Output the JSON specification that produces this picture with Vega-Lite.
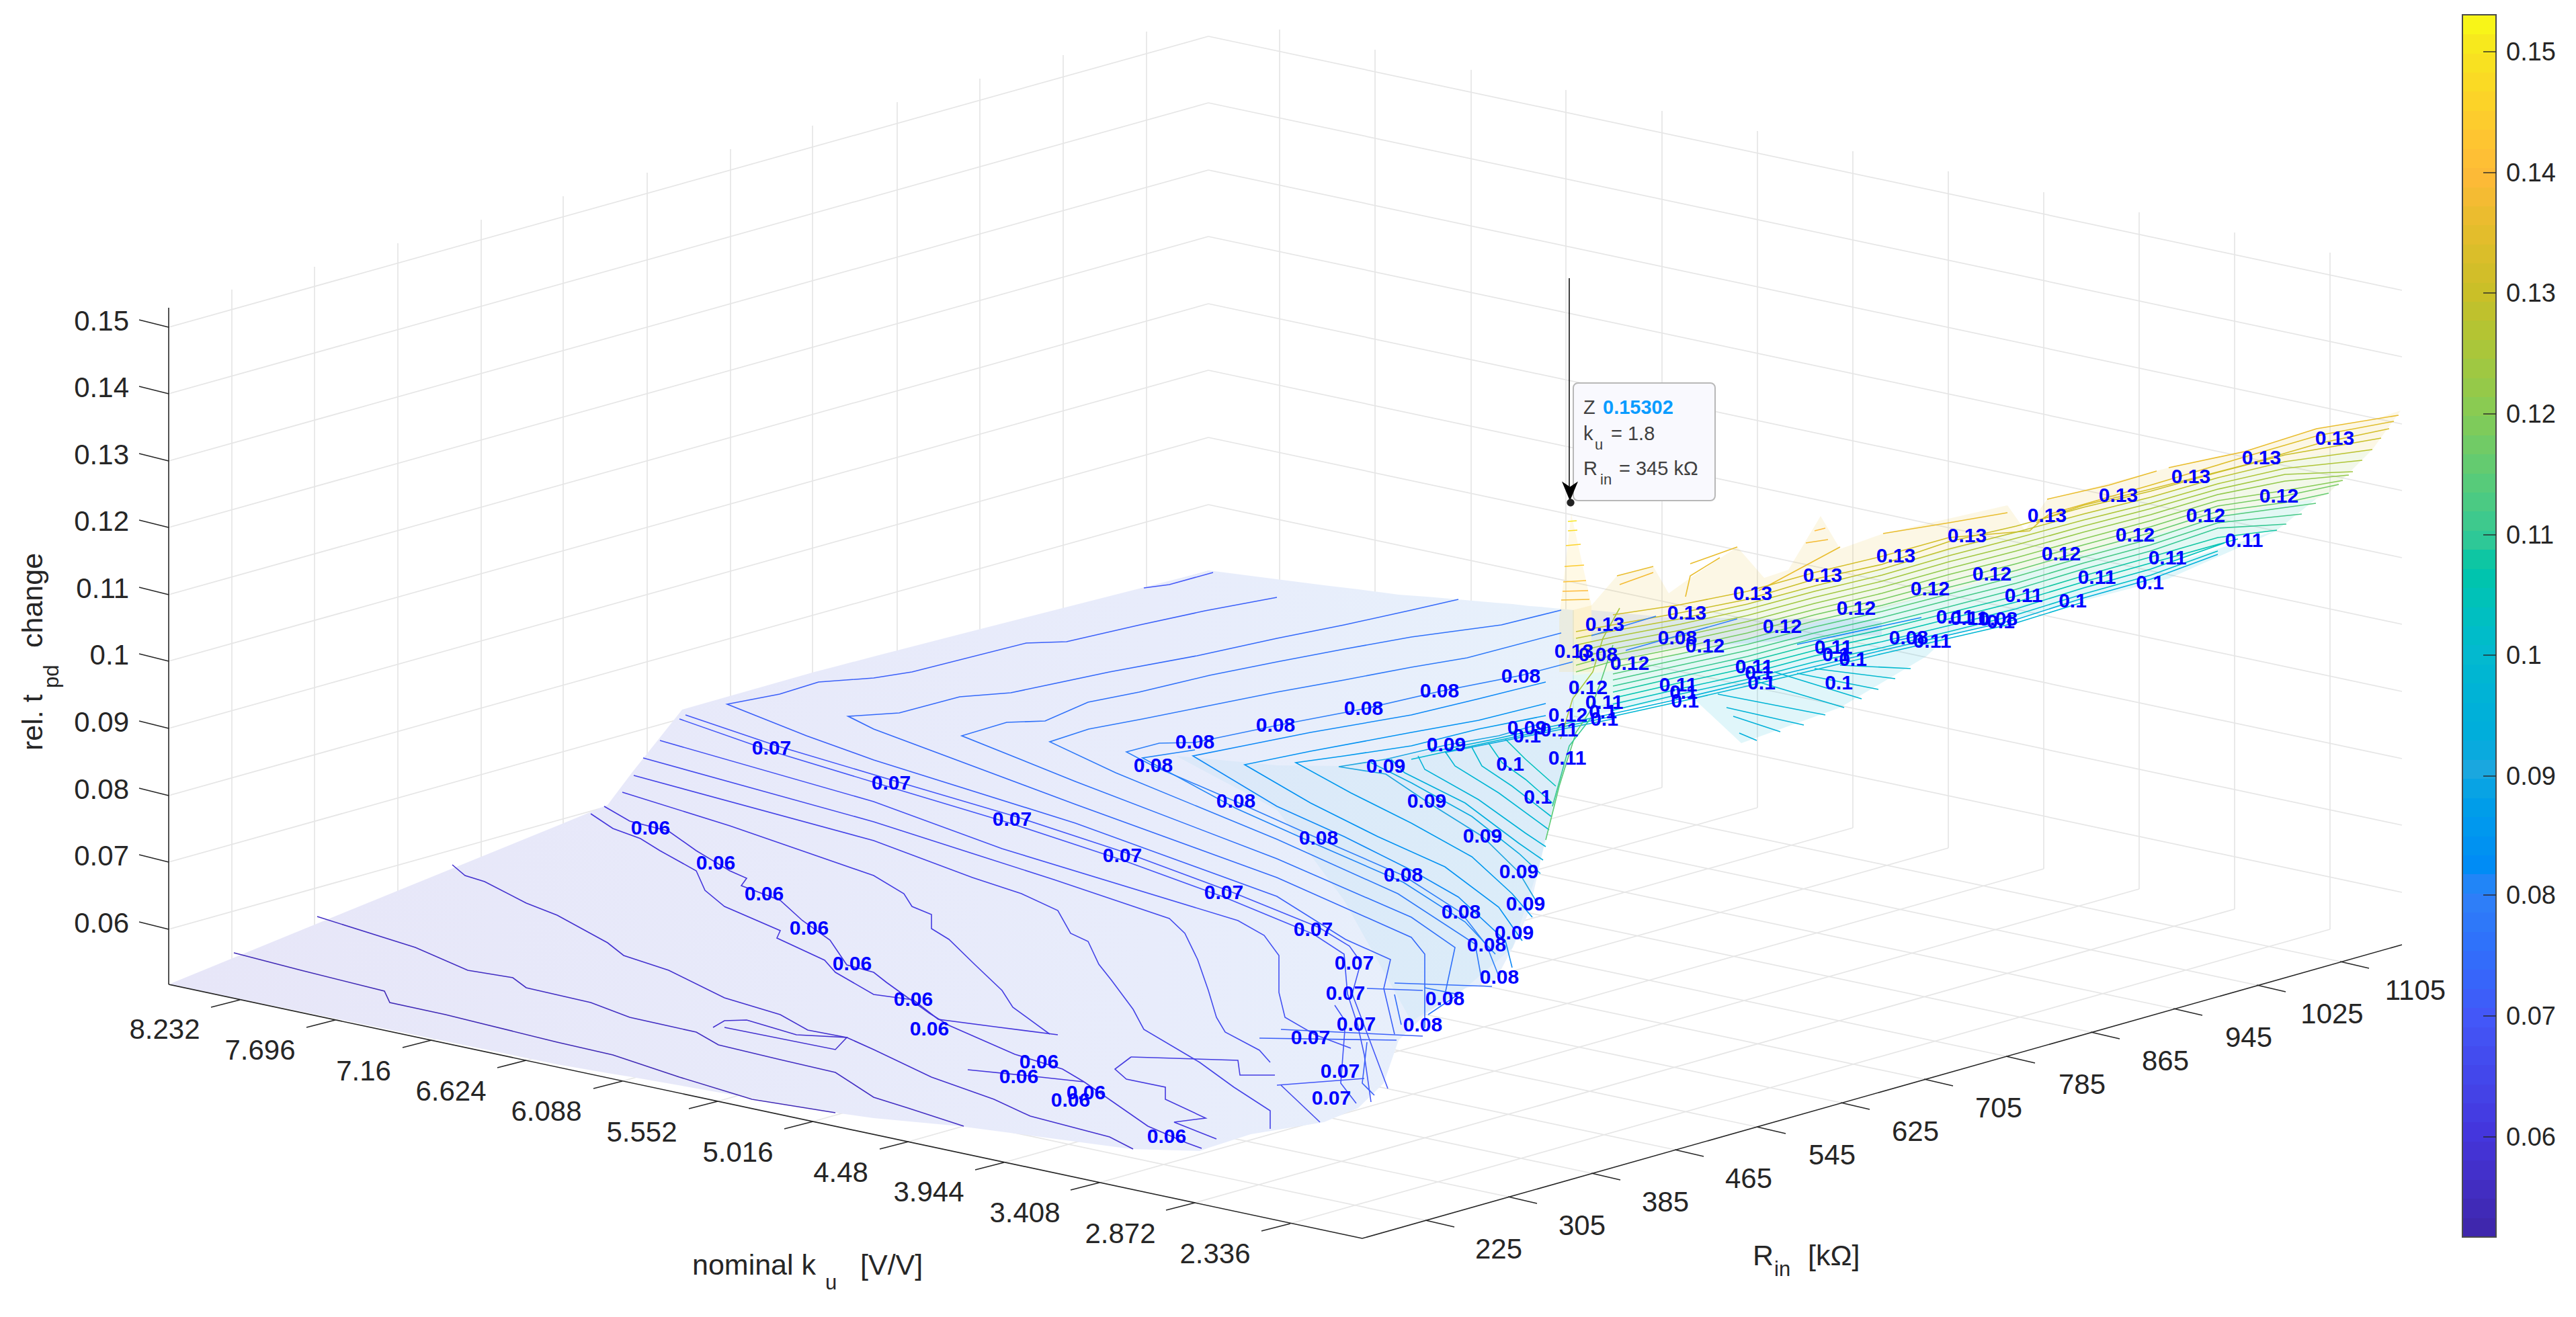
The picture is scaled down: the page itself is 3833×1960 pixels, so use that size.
{"$schema":"https://vega.github.io/schema/vega-lite/v6.json","width":3833,"height":1960,"padding":0,"autosize":{"type":"none"},"background":"white",
"config":{"view":{"stroke":null},"font":"Liberation Sans"},
"datasets":{
"grid":[
{"x":251,"y":487,"x2":1798,"y2":54},{"x":251,"y":586,"x2":1798,"y2":153},{"x":251,"y":686,"x2":1798,"y2":253},{"x":251,"y":785,"x2":1798,"y2":352},{"x":251,"y":885,"x2":1798,"y2":452},{"x":251,"y":984,"x2":1798,"y2":551},{"x":251,"y":1084,"x2":1798,"y2":651},{"x":251,"y":1184,"x2":1798,"y2":751},{"x":251,"y":1283,"x2":1798,"y2":850},{"x":251,"y":1383,"x2":1798,"y2":950},
{"x":1798,"y":54,"x2":3574,"y2":432},{"x":1798,"y":153,"x2":3574,"y2":531},{"x":1798,"y":253,"x2":3574,"y2":631},{"x":1798,"y":352,"x2":3574,"y2":730},{"x":1798,"y":452,"x2":3574,"y2":830},{"x":1798,"y":551,"x2":3574,"y2":929},{"x":1798,"y":651,"x2":3574,"y2":1029},{"x":1798,"y":751,"x2":3574,"y2":1129},{"x":1798,"y":850,"x2":3574,"y2":1228},{"x":1798,"y":950,"x2":3574,"y2":1328},
{"x":345,"y":1438,"x2":345,"y2":431},{"x":468,"y":1404,"x2":468,"y2":397},{"x":592,"y":1369,"x2":592,"y2":362},{"x":716,"y":1334,"x2":716,"y2":327},{"x":838,"y":1299,"x2":838,"y2":292},{"x":963,"y":1264,"x2":963,"y2":257},{"x":1087,"y":1229,"x2":1087,"y2":222},{"x":1209,"y":1194,"x2":1209,"y2":187},{"x":1335,"y":1159,"x2":1335,"y2":152},{"x":1458,"y":1124,"x2":1458,"y2":117},{"x":1582,"y":1089,"x2":1582,"y2":82},{"x":1706,"y":1054,"x2":1706,"y2":47},
{"x":1904,"y":1051,"x2":1904,"y2":44},{"x":2046,"y":1081,"x2":2046,"y2":74},{"x":2189,"y":1111,"x2":2189,"y2":104},{"x":2330,"y":1141,"x2":2330,"y2":134},{"x":2473,"y":1172,"x2":2473,"y2":165},{"x":2615,"y":1202,"x2":2615,"y2":195},{"x":2757,"y":1232,"x2":2757,"y2":225},{"x":2899,"y":1262,"x2":2899,"y2":255},{"x":3041,"y":1293,"x2":3041,"y2":286},{"x":3183,"y":1323,"x2":3183,"y2":316},{"x":3325,"y":1353,"x2":3325,"y2":346},{"x":3467,"y":1383,"x2":3467,"y2":376},
{"x":2121,"y":1816,"x2":345,"y2":1438},{"x":2244,"y":1781,"x2":468,"y2":1404},{"x":2368,"y":1746,"x2":592,"y2":1369},{"x":2492,"y":1711,"x2":716,"y2":1334},{"x":2614,"y":1677,"x2":838,"y2":1299},{"x":2739,"y":1641,"x2":963,"y2":1264},{"x":2863,"y":1606,"x2":1087,"y2":1229},{"x":2985,"y":1572,"x2":1209,"y2":1194},{"x":3111,"y":1536,"x2":1335,"y2":1159},{"x":3234,"y":1501,"x2":1458,"y2":1124},{"x":3358,"y":1466,"x2":1582,"y2":1089},{"x":3482,"y":1431,"x2":1706,"y2":1054},
{"x":357,"y":1488,"x2":1904,"y2":1051},{"x":499,"y":1518,"x2":2046,"y2":1081},{"x":642,"y":1548,"x2":2189,"y2":1111},{"x":783,"y":1578,"x2":2330,"y2":1141},{"x":926,"y":1609,"x2":2473,"y2":1172},{"x":1068,"y":1639,"x2":2615,"y2":1202},{"x":1210,"y":1669,"x2":2757,"y2":1232},{"x":1352,"y":1699,"x2":2899,"y2":1262},{"x":1494,"y":1730,"x2":3041,"y2":1293},{"x":1636,"y":1760,"x2":3183,"y2":1323},{"x":1778,"y":1790,"x2":3325,"y2":1353},{"x":1920,"y":1821,"x2":3467,"y2":1383}
],
"axes":[
{"x":251,"y":458,"x2":251,"y2":1465},{"x":251,"y":1465,"x2":2027,"y2":1843},{"x":2027,"y":1843,"x2":3574,"y2":1406},
{"x":251,"y":487,"x2":207,"y2":476},{"x":251,"y":586,"x2":207,"y2":575},{"x":251,"y":686,"x2":207,"y2":675},{"x":251,"y":785,"x2":207,"y2":774},{"x":251,"y":885,"x2":207,"y2":874},{"x":251,"y":984,"x2":207,"y2":973},{"x":251,"y":1084,"x2":207,"y2":1073},{"x":251,"y":1184,"x2":207,"y2":1173},{"x":251,"y":1283,"x2":207,"y2":1272},{"x":251,"y":1383,"x2":207,"y2":1372},
{"x":357,"y":1488,"x2":314,"y2":1499},{"x":499,"y":1518,"x2":456,"y2":1529},{"x":642,"y":1548,"x2":599,"y2":1559},{"x":783,"y":1578,"x2":740,"y2":1589},{"x":926,"y":1609,"x2":883,"y2":1620},{"x":1068,"y":1639,"x2":1025,"y2":1650},{"x":1210,"y":1669,"x2":1167,"y2":1680},{"x":1352,"y":1699,"x2":1309,"y2":1710},{"x":1494,"y":1730,"x2":1451,"y2":1741},{"x":1636,"y":1760,"x2":1593,"y2":1771},{"x":1778,"y":1790,"x2":1735,"y2":1801},{"x":1920,"y":1821,"x2":1877,"y2":1832},
{"x":2121,"y":1816,"x2":2164,"y2":1826},{"x":2244,"y":1781,"x2":2287,"y2":1791},{"x":2368,"y":1746,"x2":2411,"y2":1756},{"x":2492,"y":1711,"x2":2535,"y2":1721},{"x":2614,"y":1677,"x2":2657,"y2":1687},{"x":2739,"y":1641,"x2":2782,"y2":1651},{"x":2863,"y":1606,"x2":2906,"y2":1616},{"x":2985,"y":1572,"x2":3028,"y2":1582},{"x":3111,"y":1536,"x2":3154,"y2":1546},{"x":3234,"y":1501,"x2":3277,"y2":1511},{"x":3358,"y":1466,"x2":3401,"y2":1476},{"x":3482,"y":1431,"x2":3525,"y2":1441}
],
"cbticks":[{"x":3695,"y":77,"x2":3714,"y2":77},{"x":3695,"y":257,"x2":3714,"y2":257},{"x":3695,"y":436,"x2":3714,"y2":436},{"x":3695,"y":616,"x2":3714,"y2":616},{"x":3695,"y":796,"x2":3714,"y2":796},{"x":3695,"y":975,"x2":3714,"y2":975},{"x":3695,"y":1155,"x2":3714,"y2":1155},{"x":3695,"y":1332,"x2":3714,"y2":1332},{"x":3695,"y":1512,"x2":3714,"y2":1512},{"x":3695,"y":1692,"x2":3714,"y2":1692}],
"cblabels":[{"t":"0.15","x":3729,"y":79},{"t":"0.14","x":3729,"y":259},{"t":"0.13","x":3729,"y":438},{"t":"0.12","x":3729,"y":618},{"t":"0.11","x":3729,"y":798},{"t":"0.1","x":3729,"y":977},{"t":"0.09","x":3729,"y":1157},{"t":"0.08","x":3729,"y":1334},{"t":"0.07","x":3729,"y":1514},{"t":"0.06","x":3729,"y":1694}],
"colorbar":[
{"z":0.0525,"y":1841,"y2":1813},{"z":0.0541,"y":1813,"y2":1784},{"z":0.0557,"y":1784,"y2":1756},{"z":0.0573,"y":1756,"y2":1727},{"z":0.0588,"y":1727,"y2":1699},{"z":0.0604,"y":1699,"y2":1670},{"z":0.062,"y":1670,"y2":1642},{"z":0.0636,"y":1642,"y2":1614},{"z":0.0652,"y":1614,"y2":1585},{"z":0.0667,"y":1585,"y2":1557},{"z":0.0683,"y":1557,"y2":1529},{"z":0.0699,"y":1529,"y2":1500},{"z":0.0715,"y":1500,"y2":1472},{"z":0.0731,"y":1472,"y2":1443},{"z":0.0747,"y":1443,"y2":1415},{"z":0.0762,"y":1415,"y2":1387},{"z":0.0778,"y":1387,"y2":1358},{"z":0.0794,"y":1358,"y2":1330},{"z":0.081,"y":1330,"y2":1301},{"z":0.0826,"y":1301,"y2":1273},{"z":0.0842,"y":1273,"y2":1245},{"z":0.0857,"y":1245,"y2":1216},{"z":0.0873,"y":1216,"y2":1188},{"z":0.0889,"y":1188,"y2":1159},{"z":0.0905,"y":1159,"y2":1131},{"z":0.0921,"y":1131,"y2":1102},{"z":0.0937,"y":1102,"y2":1074},{"z":0.0952,"y":1074,"y2":1046},{"z":0.0968,"y":1046,"y2":1017},{"z":0.0984,"y":1017,"y2":989},{"z":0.1,"y":989,"y2":960},{"z":0.1016,"y":960,"y2":932},{"z":0.1032,"y":932,"y2":904},{"z":0.1047,"y":904,"y2":875},{"z":0.1063,"y":875,"y2":847},{"z":0.1079,"y":847,"y2":818},{"z":0.1095,"y":818,"y2":790},{"z":0.1111,"y":790,"y2":761},{"z":0.1127,"y":761,"y2":733},{"z":0.1142,"y":733,"y2":705},{"z":0.1158,"y":705,"y2":676},{"z":0.1174,"y":676,"y2":648},{"z":0.119,"y":648,"y2":619},{"z":0.1206,"y":619,"y2":591},{"z":0.1222,"y":591,"y2":563},{"z":0.1237,"y":563,"y2":534},{"z":0.1253,"y":534,"y2":506},{"z":0.1269,"y":506,"y2":477},{"z":0.1285,"y":477,"y2":449},{"z":0.1301,"y":449,"y2":421},{"z":0.1317,"y":421,"y2":392},{"z":0.1332,"y":392,"y2":364},{"z":0.1348,"y":364,"y2":335},{"z":0.1364,"y":335,"y2":307},{"z":0.138,"y":307,"y2":279},{"z":0.1396,"y":279,"y2":250},{"z":0.1411,"y":250,"y2":222},{"z":0.1427,"y":222,"y2":193},{"z":0.1443,"y":193,"y2":165},{"z":0.1459,"y":165,"y2":136},{"z":0.1475,"y":136,"y2":108},{"z":0.1491,"y":108,"y2":80},{"z":0.1506,"y":80,"y2":51},{"z":0.1522,"y":51,"y2":22}
],
"base":[
{"x":251,"y":1465,"y2":1465},{"x":500,"y":1363,"y2":1516},{"x":829,"y":1229,"y2":1584},{"x":904,"y":1198,"y2":1597},{"x":941,"y":1149,"y2":1603},{"x":1015,"y":1056,"y2":1616},{"x":1212,"y":1000,"y2":1651},{"x":1243,"y":992,"y2":1656},{"x":1300,"y":977,"y2":1664},{"x":1428,"y":944,"y2":1676},{"x":1683,"y":879,"y2":1710},{"x":1785,"y":853,"y2":1713},{"x":1799,"y":849,"y2":1708},{"x":1861,"y":857,"y2":1688},{"x":1970,"y":871,"y2":1670},{"x":2021,"y":877,"y2":1649},{"x":2059,"y":882,"y2":1612},{"x":2081,"y":885,"y2":1548},{"x":2123,"y":888,"y2":1508},{"x":2180,"y":893,"y2":1471},{"x":2225,"y":897,"y2":1459},{"x":2251,"y":899,"y2":1410},{"x":2276,"y":902,"y2":1355},{"x":2292,"y":903,"y2":1282},{"x":2311,"y":905,"y2":1199},{"x":2342,"y":908,"y2":1093}
],
"ridge":[
{"z":0.1,"x":1750,"y":1125,"y2":1125},{"z":0.1,"x":1900,"y":1139,"y2":1205},{"z":0.1,"x":2000,"y":1140,"y2":1340},{"z":0.1,"x":2100,"y":1124,"y2":1520},{"z":0.1,"x":2180,"y":1107,"y2":1471},{"z":0.1,"x":2251,"y":1095,"y2":1410},{"z":0.1,"x":2292,"y":1085,"y2":1282},{"z":0.1,"x":2342,"y":1072,"y2":1093}
],
"patches":[
{"p":"back","z":0.075,"x":2368,"y":908,"y2":990},{"p":"back","z":0.075,"x":2483,"y":919,"y2":965},{"p":"back","z":0.075,"x":2738,"y":921,"y2":948},{"p":"back","z":0.075,"x":2800,"y":925,"y2":945},
{"p":"spike","z":0.145,"x":2320,"y":920,"y2":1000},{"p":"spike","z":0.145,"x":2338,"y":765,"y2":1000},{"p":"spike","z":0.145,"x":2368,"y":900,"y2":1000},
{"p":"b1","z":0.135,"x":2340,"y":908,"y2":950},{"p":"b1","z":0.135,"x":2368,"y":901,"y2":945},{"p":"b1","z":0.135,"x":2406,"y":857,"y2":938},{"p":"b1","z":0.135,"x":2460,"y":843,"y2":928},{"p":"b1","z":0.135,"x":2483,"y":883,"y2":924},{"p":"b1","z":0.135,"x":2515,"y":860,"y2":918},{"p":"b1","z":0.135,"x":2585,"y":814,"y2":902},{"p":"b1","z":0.135,"x":2625,"y":860,"y2":893},{"p":"b1","z":0.135,"x":2661,"y":848,"y2":882},{"p":"b1","z":0.135,"x":2709,"y":768,"y2":871},{"p":"b1","z":0.135,"x":2738,"y":817,"y2":863},{"p":"b1","z":0.135,"x":2802,"y":794,"y2":846},{"p":"b1","z":0.135,"x":2987,"y":752,"y2":796},{"p":"b1","z":0.135,"x":3013,"y":789,"y2":789},{"p":"b1","z":0.135,"x":3046,"y":743,"y2":780},{"p":"b1","z":0.135,"x":3227,"y":696,"y2":733},{"p":"b1","z":0.135,"x":3340,"y":672,"y2":699},{"p":"b1","z":0.135,"x":3447,"y":638,"y2":677},{"p":"b1","z":0.135,"x":3530,"y":625,"y2":669},{"p":"b1","z":0.135,"x":3572,"y":611,"y2":611},
{"p":"b2","z":0.122,"x":2340,"y":950,"y2":1005},{"p":"b2","z":0.122,"x":2406,"y":938,"y2":998},{"p":"b2","z":0.122,"x":2515,"y":918,"y2":970},{"p":"b2","z":0.122,"x":2625,"y":893,"y2":945},{"p":"b2","z":0.122,"x":2738,"y":863,"y2":918},{"p":"b2","z":0.122,"x":2802,"y":846,"y2":905},{"p":"b2","z":0.122,"x":2900,"y":817,"y2":879},{"p":"b2","z":0.122,"x":3046,"y":780,"y2":840},{"p":"b2","z":0.122,"x":3227,"y":733,"y2":790},{"p":"b2","z":0.122,"x":3340,"y":699,"y2":760},{"p":"b2","z":0.122,"x":3447,"y":677,"y2":742},{"p":"b2","z":0.122,"x":3465,"y":675,"y2":734},{"p":"b2","z":0.122,"x":3530,"y":669,"y2":669},
{"p":"b3","z":0.108,"x":2340,"y":1005,"y2":1060},{"p":"b3","z":0.108,"x":2406,"y":998,"y2":1047},{"p":"b3","z":0.108,"x":2515,"y":970,"y2":1022},{"p":"b3","z":0.108,"x":2625,"y":945,"y2":997},{"p":"b3","z":0.108,"x":2738,"y":918,"y2":968},{"p":"b3","z":0.108,"x":2900,"y":879,"y2":931},{"p":"b3","z":0.108,"x":3046,"y":840,"y2":892},{"p":"b3","z":0.108,"x":3227,"y":790,"y2":840},{"p":"b3","z":0.108,"x":3340,"y":760,"y2":795},{"p":"b3","z":0.108,"x":3388,"y":752,"y2":789},{"p":"b3","z":0.108,"x":3447,"y":742,"y2":742},
{"p":"b4","z":0.098,"x":2342,"y":1060,"y2":1093},{"p":"b4","z":0.098,"x":2381,"y":1050,"y2":1062},{"p":"b4","z":0.098,"x":2515,"y":1022,"y2":1035},{"p":"b4","z":0.098,"x":2591,"y":1003,"y2":1106},{"p":"b4","z":0.098,"x":2738,"y":968,"y2":1053},{"p":"b4","z":0.098,"x":2866,"y":940,"y2":977},{"p":"b4","z":0.098,"x":2900,"y":931,"y2":946},{"p":"b4","z":0.098,"x":3227,"y":840,"y2":861},{"p":"b4","z":0.098,"x":3388,"y":789,"y2":790}
],
"contours":[
{"c":"a0","z":0.07,"x":1702,"y":875},{"c":"a0","z":0.07,"x":1740,"y":870},{"c":"a0","z":0.07,"x":1805,"y":852},
{"c":"a1","z":0.054,"x":348,"y":1418},{"c":"a1","z":0.054,"x":448,"y":1444},{"c":"a1","z":0.054,"x":572,"y":1475},{"c":"a1","z":0.054,"x":580,"y":1492},{"c":"a1","z":0.054,"x":663,"y":1510},{"c":"a1","z":0.054,"x":829,"y":1551},{"c":"a1","z":0.054,"x":912,"y":1570},{"c":"a1","z":0.054,"x":1011,"y":1603},{"c":"a1","z":0.054,"x":1119,"y":1636},{"c":"a1","z":0.054,"x":1243,"y":1656},
{"c":"a2","z":0.056,"x":472,"y":1364},{"c":"a2","z":0.056,"x":618,"y":1410},{"c":"a2","z":0.056,"x":696,"y":1444},{"c":"a2","z":0.056,"x":763,"y":1455},{"c":"a2","z":0.056,"x":783,"y":1470},{"c":"a2","z":0.056,"x":879,"y":1492},{"c":"a2","z":0.056,"x":937,"y":1514},{"c":"a2","z":0.056,"x":1036,"y":1536},{"c":"a2","z":0.056,"x":1069,"y":1555},{"c":"a2","z":0.056,"x":1161,"y":1577},{"c":"a2","z":0.056,"x":1243,"y":1596},{"c":"a2","z":0.056,"x":1300,"y":1633},{"c":"a2","z":0.056,"x":1351,"y":1649},{"c":"a2","z":0.056,"x":1434,"y":1676},
{"c":"a3","z":0.058,"x":673,"y":1287},{"c":"a3","z":0.058,"x":692,"y":1303},{"c":"a3","z":0.058,"x":721,"y":1312},{"c":"a3","z":0.058,"x":783,"y":1344},{"c":"a3","z":0.058,"x":829,"y":1362},{"c":"a3","z":0.058,"x":904,"y":1403},{"c":"a3","z":0.058,"x":928,"y":1422},{"c":"a3","z":0.058,"x":995,"y":1444},{"c":"a3","z":0.058,"x":1078,"y":1485},{"c":"a3","z":0.058,"x":1161,"y":1510},{"c":"a3","z":0.058,"x":1202,"y":1533},{"c":"a3","z":0.058,"x":1260,"y":1544},{"c":"a3","z":0.058,"x":1300,"y":1562},{"c":"a3","z":0.058,"x":1386,"y":1603},{"c":"a3","z":0.058,"x":1479,"y":1636},{"c":"a3","z":0.058,"x":1533,"y":1661},{"c":"a3","z":0.058,"x":1651,"y":1692},{"c":"a3","z":0.058,"x":1686,"y":1710},
{"c":"a4","z":0.058,"x":1061,"y":1529},{"c":"a4","z":0.058,"x":1078,"y":1519},{"c":"a4","z":0.058,"x":1111,"y":1518},{"c":"a4","z":0.058,"x":1185,"y":1540},{"c":"a4","z":0.058,"x":1260,"y":1544},{"c":"a4","z":0.058,"x":1243,"y":1562},{"c":"a4","z":0.058,"x":1078,"y":1529},
{"c":"b1","z":0.06,"x":879,"y":1211},{"c":"b1","z":0.06,"x":912,"y":1233},{"c":"b1","z":0.06,"x":953,"y":1248},{"c":"b1","z":0.06,"x":982,"y":1266},{"c":"b1","z":0.06,"x":1036,"y":1296},{"c":"b1","z":0.06,"x":1049,"y":1325},{"c":"b1","z":0.06,"x":1078,"y":1349},{"c":"b1","z":0.06,"x":1161,"y":1385},{"c":"b1","z":0.06,"x":1156,"y":1396},{"c":"b1","z":0.06,"x":1227,"y":1429},{"c":"b1","z":0.06,"x":1243,"y":1447},{"c":"b1","z":0.06,"x":1300,"y":1480},{"c":"b1","z":0.06,"x":1359,"y":1488},{"c":"b1","z":0.06,"x":1396,"y":1517},{"c":"b1","z":0.06,"x":1480,"y":1528},{"c":"b1","z":0.06,"x":1574,"y":1540},
{"c":"b2","z":0.06,"x":899,"y":1200},{"c":"b2","z":0.06,"x":937,"y":1222},{"c":"b2","z":0.06,"x":995,"y":1237},{"c":"b2","z":0.06,"x":1036,"y":1266},{"c":"b2","z":0.06,"x":1086,"y":1296},{"c":"b2","z":0.06,"x":1111,"y":1307},{"c":"b2","z":0.06,"x":1103,"y":1318},{"c":"b2","z":0.06,"x":1161,"y":1340},{"c":"b2","z":0.06,"x":1194,"y":1370},{"c":"b2","z":0.06,"x":1235,"y":1399},{"c":"b2","z":0.06,"x":1260,"y":1436},{"c":"b2","z":0.06,"x":1300,"y":1447},{"c":"b2","z":0.06,"x":1319,"y":1462},{"c":"b2","z":0.06,"x":1383,"y":1508},{"c":"b2","z":0.06,"x":1412,"y":1526},{"c":"b2","z":0.06,"x":1510,"y":1569},{"c":"b2","z":0.06,"x":1581,"y":1591},{"c":"b2","z":0.06,"x":1613,"y":1610},{"c":"b2","z":0.06,"x":1708,"y":1676},{"c":"b2","z":0.06,"x":1766,"y":1701},{"c":"b2","z":0.06,"x":1788,"y":1709},
{"c":"b3","z":0.06,"x":1440,"y":1592},{"c":"b3","z":0.06,"x":1530,"y":1601},{"c":"b3","z":0.06,"x":1613,"y":1610},
{"c":"b4","z":0.061,"x":1683,"y":1573},{"c":"b4","z":0.061,"x":1659,"y":1591},{"c":"b4","z":0.061,"x":1676,"y":1606},{"c":"b4","z":0.061,"x":1734,"y":1618},{"c":"b4","z":0.061,"x":1734,"y":1636},{"c":"b4","z":0.061,"x":1794,"y":1664},{"c":"b4","z":0.061,"x":1747,"y":1670},{"c":"b4","z":0.061,"x":1810,"y":1695},
{"c":"b5","z":0.062,"x":1683,"y":1573},{"c":"b5","z":0.062,"x":1842,"y":1578},{"c":"b5","z":0.062,"x":1845,"y":1600},{"c":"b5","z":0.062,"x":1897,"y":1600},
{"c":"c1","z":0.062,"x":926,"y":1179},{"c":"c1","z":0.062,"x":1086,"y":1229},{"c":"c1","z":0.062,"x":1300,"y":1303},{"c":"c1","z":0.062,"x":1345,"y":1330},{"c":"c1","z":0.062,"x":1357,"y":1349},{"c":"c1","z":0.062,"x":1386,"y":1361},{"c":"c1","z":0.062,"x":1386,"y":1382},{"c":"c1","z":0.062,"x":1412,"y":1398},{"c":"c1","z":0.062,"x":1450,"y":1435},{"c":"c1","z":0.062,"x":1491,"y":1474},{"c":"c1","z":0.062,"x":1507,"y":1499},{"c":"c1","z":0.062,"x":1562,"y":1539},
{"c":"c2","z":0.064,"x":943,"y":1154},{"c":"c2","z":0.064,"x":1300,"y":1251},{"c":"c2","z":0.064,"x":1447,"y":1306},{"c":"c2","z":0.064,"x":1520,"y":1330},{"c":"c2","z":0.064,"x":1574,"y":1355},{"c":"c2","z":0.064,"x":1593,"y":1389},{"c":"c2","z":0.064,"x":1619,"y":1401},{"c":"c2","z":0.064,"x":1635,"y":1435},{"c":"c2","z":0.064,"x":1654,"y":1459},{"c":"c2","z":0.064,"x":1686,"y":1502},{"c":"c2","z":0.064,"x":1702,"y":1532},{"c":"c2","z":0.064,"x":1785,"y":1581},{"c":"c2","z":0.064,"x":1836,"y":1618},{"c":"c2","z":0.064,"x":1890,"y":1653},{"c":"c2","z":0.064,"x":1890,"y":1680},
{"c":"c3","z":0.066,"x":957,"y":1128},{"c":"c3","z":0.066,"x":1300,"y":1223},{"c":"c3","z":0.066,"x":1568,"y":1309},{"c":"c3","z":0.066,"x":1740,"y":1367},{"c":"c3","z":0.066,"x":1763,"y":1389},{"c":"c3","z":0.066,"x":1782,"y":1428},{"c":"c3","z":0.066,"x":1798,"y":1474},{"c":"c3","z":0.066,"x":1810,"y":1514},{"c":"c3","z":0.066,"x":1823,"y":1536},{"c":"c3","z":0.066,"x":1874,"y":1563},{"c":"c3","z":0.066,"x":1890,"y":1581},
{"c":"c4","z":0.068,"x":982,"y":1102},{"c":"c4","z":0.068,"x":1300,"y":1193},{"c":"c4","z":0.068,"x":1491,"y":1263},{"c":"c4","z":0.068,"x":1842,"y":1370},{"c":"c4","z":0.068,"x":1881,"y":1392},{"c":"c4","z":0.068,"x":1903,"y":1422},{"c":"c4","z":0.068,"x":1903,"y":1477},{"c":"c4","z":0.068,"x":1912,"y":1514},{"c":"c4","z":0.068,"x":1957,"y":1540},{"c":"c4","z":0.068,"x":2010,"y":1560},
{"c":"d1","z":0.07,"x":1011,"y":1070},{"c":"d1","z":0.07,"x":1148,"y":1118},{"c":"d1","z":0.07,"x":1326,"y":1172},{"c":"d1","z":0.07,"x":1506,"y":1226},{"c":"d1","z":0.07,"x":1670,"y":1280},{"c":"d1","z":0.07,"x":1821,"y":1335},{"c":"d1","z":0.07,"x":1954,"y":1390},{"c":"d1","z":0.07,"x":2000,"y":1420},{"c":"d1","z":0.07,"x":2005,"y":1479},{"c":"d1","z":0.07,"x":2020,"y":1525},{"c":"d1","z":0.07,"x":2030,"y":1570},{"c":"d1","z":0.07,"x":2040,"y":1640},
{"c":"d2","z":0.07,"x":1020,"y":1064},{"c":"d2","z":0.07,"x":1156,"y":1110},{"c":"d2","z":0.07,"x":1334,"y":1163},{"c":"d2","z":0.07,"x":1514,"y":1216},{"c":"d2","z":0.07,"x":1678,"y":1270},{"c":"d2","z":0.07,"x":1829,"y":1326},{"c":"d2","z":0.07,"x":1962,"y":1380},{"c":"d2","z":0.07,"x":2008,"y":1408},{"c":"d2","z":0.07,"x":2025,"y":1432},{"c":"d2","z":0.07,"x":2012,"y":1479},{"c":"d2","z":0.07,"x":2035,"y":1540},{"c":"d2","z":0.07,"x":2065,"y":1620},
{"c":"e1","z":0.072,"x":1900,"y":889},{"c":"e1","z":0.072,"x":1793,"y":909},{"c":"e1","z":0.072,"x":1696,"y":930},{"c":"e1","z":0.072,"x":1587,"y":955},{"c":"e1","z":0.072,"x":1527,"y":957},{"c":"e1","z":0.072,"x":1357,"y":1000},{"c":"e1","z":0.072,"x":1300,"y":1009},{"c":"e1","z":0.072,"x":1218,"y":1015},{"c":"e1","z":0.072,"x":1160,"y":1033},{"c":"e1","z":0.072,"x":1082,"y":1048},{"c":"e1","z":0.072,"x":1200,"y":1095},{"c":"e1","z":0.072,"x":1300,"y":1131},{"c":"e1","z":0.072,"x":1600,"y":1225},{"c":"e1","z":0.072,"x":1900,"y":1334},{"c":"e1","z":0.072,"x":2002,"y":1398},{"c":"e1","z":0.072,"x":2069,"y":1428},{"c":"e1","z":0.072,"x":2059,"y":1471},{"c":"e1","z":0.072,"x":2075,"y":1539},
{"c":"e2","z":0.074,"x":2170,"y":892},{"c":"e2","z":0.074,"x":2100,"y":908},{"c":"e2","z":0.074,"x":2000,"y":930},{"c":"e2","z":0.074,"x":1900,"y":950},{"c":"e2","z":0.074,"x":1781,"y":976},{"c":"e2","z":0.074,"x":1651,"y":1000},{"c":"e2","z":0.074,"x":1504,"y":1031},{"c":"e2","z":0.074,"x":1428,"y":1037},{"c":"e2","z":0.074,"x":1338,"y":1061},{"c":"e2","z":0.074,"x":1262,"y":1066},{"c":"e2","z":0.074,"x":1300,"y":1085},{"c":"e2","z":0.074,"x":1600,"y":1197},{"c":"e2","z":0.074,"x":1900,"y":1306},{"c":"e2","z":0.074,"x":2100,"y":1395},{"c":"e2","z":0.074,"x":2120,"y":1420},{"c":"e2","z":0.074,"x":2120,"y":1530},
{"c":"e3","z":0.076,"x":2323,"y":908},{"c":"e3","z":0.076,"x":2234,"y":930},{"c":"e3","z":0.076,"x":2100,"y":948},{"c":"e3","z":0.076,"x":2000,"y":966},{"c":"e3","z":0.076,"x":1900,"y":985},{"c":"e3","z":0.076,"x":1800,"y":1005},{"c":"e3","z":0.076,"x":1695,"y":1030},{"c":"e3","z":0.076,"x":1619,"y":1045},{"c":"e3","z":0.076,"x":1555,"y":1073},{"c":"e3","z":0.076,"x":1498,"y":1075},{"c":"e3","z":0.076,"x":1431,"y":1095},{"c":"e3","z":0.076,"x":1600,"y":1163},{"c":"e3","z":0.076,"x":1900,"y":1278},{"c":"e3","z":0.076,"x":2100,"y":1365},{"c":"e3","z":0.076,"x":2165,"y":1410},{"c":"e3","z":0.076,"x":2150,"y":1480},
{"c":"e4","z":0.078,"x":2323,"y":942},{"c":"e4","z":0.078,"x":2183,"y":979},{"c":"e4","z":0.078,"x":2100,"y":993},{"c":"e4","z":0.078,"x":2000,"y":1012},{"c":"e4","z":0.078,"x":1900,"y":1030},{"c":"e4","z":0.078,"x":1800,"y":1050},{"c":"e4","z":0.078,"x":1700,"y":1070},{"c":"e4","z":0.078,"x":1620,"y":1085},{"c":"e4","z":0.078,"x":1562,"y":1104},{"c":"e4","z":0.078,"x":1660,"y":1150},{"c":"e4","z":0.078,"x":1900,"y":1249},{"c":"e4","z":0.078,"x":2080,"y":1330},{"c":"e4","z":0.078,"x":2195,"y":1405},{"c":"e4","z":0.078,"x":2205,"y":1460},
{"c":"e5","z":0.08,"x":2340,"y":985},{"c":"e5","z":0.08,"x":2264,"y":1005},{"c":"e5","z":0.08,"x":2142,"y":1029},{"c":"e5","z":0.08,"x":2029,"y":1055},{"c":"e5","z":0.08,"x":1898,"y":1080},{"c":"e5","z":0.08,"x":1778,"y":1105},{"c":"e5","z":0.08,"x":1725,"y":1106},{"c":"e5","z":0.08,"x":1676,"y":1119},{"c":"e5","z":0.08,"x":1716,"y":1140},{"c":"e5","z":0.08,"x":1839,"y":1193},{"c":"e5","z":0.08,"x":1962,"y":1248},{"c":"e5","z":0.08,"x":2088,"y":1303},{"c":"e5","z":0.08,"x":2174,"y":1358},{"c":"e5","z":0.08,"x":2212,"y":1407},{"c":"e5","z":0.08,"x":2231,"y":1455},
{"c":"e6","z":0.081,"x":1778,"y":1116},{"c":"e6","z":0.081,"x":1700,"y":1128},{"c":"e6","z":0.081,"x":1839,"y":1203},{"c":"e6","z":0.081,"x":1962,"y":1258},{"c":"e6","z":0.081,"x":2088,"y":1313},{"c":"e6","z":0.081,"x":2180,"y":1372},{"c":"e6","z":0.081,"x":2225,"y":1420},
{"c":"e7","z":0.082,"x":2300,"y":1015},{"c":"e7","z":0.082,"x":2200,"y":1040},{"c":"e7","z":0.082,"x":2100,"y":1064},{"c":"e7","z":0.082,"x":1950,"y":1090},{"c":"e7","z":0.082,"x":1850,"y":1110},{"c":"e7","z":0.082,"x":1775,"y":1125},{"c":"e7","z":0.082,"x":1900,"y":1200},{"c":"e7","z":0.082,"x":2000,"y":1245},{"c":"e7","z":0.082,"x":2100,"y":1295},{"c":"e7","z":0.082,"x":2170,"y":1335},{"c":"e7","z":0.082,"x":2240,"y":1400},{"c":"e7","z":0.082,"x":2250,"y":1440},
{"c":"e8","z":0.084,"x":2300,"y":1047},{"c":"e8","z":0.084,"x":2200,"y":1072},{"c":"e8","z":0.084,"x":2100,"y":1090},{"c":"e8","z":0.084,"x":1950,"y":1118},{"c":"e8","z":0.084,"x":1852,"y":1138},{"c":"e8","z":0.084,"x":1950,"y":1195},{"c":"e8","z":0.084,"x":2050,"y":1245},{"c":"e8","z":0.084,"x":2150,"y":1290},{"c":"e8","z":0.084,"x":2230,"y":1350},{"c":"e8","z":0.084,"x":2265,"y":1400},
{"c":"e9","z":0.086,"x":2300,"y":1065},{"c":"e9","z":0.086,"x":2200,"y":1085},{"c":"e9","z":0.086,"x":2100,"y":1110},{"c":"e9","z":0.086,"x":2000,"y":1125},{"c":"e9","z":0.086,"x":1928,"y":1135},{"c":"e9","z":0.086,"x":2010,"y":1180},{"c":"e9","z":0.086,"x":2100,"y":1225},{"c":"e9","z":0.086,"x":2190,"y":1275},{"c":"e9","z":0.086,"x":2250,"y":1330},{"c":"e9","z":0.086,"x":2280,"y":1365},
{"c":"f1","z":0.09,"x":2300,"y":1075},{"c":"f1","z":0.09,"x":2230,"y":1095},{"c":"f1","z":0.09,"x":2151,"y":1109},{"c":"f1","z":0.09,"x":2062,"y":1130},{"c":"f1","z":0.09,"x":1992,"y":1141},{"c":"f1","z":0.09,"x":2062,"y":1152},{"c":"f1","z":0.09,"x":2123,"y":1193},{"c":"f1","z":0.09,"x":2206,"y":1245},{"c":"f1","z":0.09,"x":2260,"y":1298},{"c":"f1","z":0.09,"x":2285,"y":1340},
{"c":"f2","z":0.092,"x":2040,"y":1135},{"c":"f2","z":0.092,"x":2100,"y":1165},{"c":"f2","z":0.092,"x":2190,"y":1215},{"c":"f2","z":0.092,"x":2260,"y":1270},{"c":"f2","z":0.092,"x":2292,"y":1300},
{"c":"f3","z":0.094,"x":2070,"y":1130},{"c":"f3","z":0.094,"x":2090,"y":1150},{"c":"f3","z":0.094,"x":2180,"y":1195},{"c":"f3","z":0.094,"x":2260,"y":1255},{"c":"f3","z":0.094,"x":2296,"y":1280},
{"c":"f4","z":0.096,"x":2110,"y":1125},{"c":"f4","z":0.096,"x":2120,"y":1145},{"c":"f4","z":0.096,"x":2200,"y":1190},{"c":"f4","z":0.096,"x":2270,"y":1240},{"c":"f4","z":0.096,"x":2300,"y":1260},
{"c":"f5","z":0.098,"x":2150,"y":1118},{"c":"f5","z":0.098,"x":2165,"y":1140},{"c":"f5","z":0.098,"x":2230,"y":1180},{"c":"f5","z":0.098,"x":2305,"y":1235},
{"c":"f6","z":0.1,"x":2190,"y":1112},{"c":"f6","z":0.1,"x":2205,"y":1140},{"c":"f6","z":0.1,"x":2250,"y":1170},{"c":"f6","z":0.1,"x":2308,"y":1215},
{"c":"f7","z":0.102,"x":2215,"y":1106},{"c":"f7","z":0.102,"x":2235,"y":1135},{"c":"f7","z":0.102,"x":2270,"y":1160},{"c":"f7","z":0.102,"x":2310,"y":1195},
{"c":"f8","z":0.104,"x":2240,"y":1100},{"c":"f8","z":0.104,"x":2270,"y":1130},{"c":"f8","z":0.104,"x":2315,"y":1170},
{"c":"g1","z":0.095,"x":2129,"y":1119},{"c":"g1","z":0.095,"x":2219,"y":1101},{"c":"g1","z":0.095,"x":2300,"y":1083},{"c":"g1","z":0.095,"x":2400,"y":1062},{"c":"g1","z":0.095,"x":2500,"y":1040},{"c":"g1","z":0.095,"x":2600,"y":1016},{"c":"g1","z":0.095,"x":2700,"y":992},{"c":"g1","z":0.095,"x":2800,"y":968},{"c":"g1","z":0.095,"x":2900,"y":945},{"c":"g1","z":0.095,"x":3000,"y":922},{"c":"g1","z":0.095,"x":3100,"y":890},{"c":"g1","z":0.095,"x":3200,"y":862},{"c":"g1","z":0.095,"x":3300,"y":825},
{"c":"g2","z":0.098,"x":2100,"y":1130},{"c":"g2","z":0.098,"x":2219,"y":1104},{"c":"g2","z":0.098,"x":2300,"y":1087},{"c":"g2","z":0.098,"x":2400,"y":1066},{"c":"g2","z":0.098,"x":2500,"y":1044},{"c":"g2","z":0.098,"x":2600,"y":1021},{"c":"g2","z":0.098,"x":2700,"y":997},{"c":"g2","z":0.098,"x":2800,"y":973},{"c":"g2","z":0.098,"x":2900,"y":950},{"c":"g2","z":0.098,"x":3000,"y":927},{"c":"g2","z":0.098,"x":3100,"y":896},
{"c":"g3","z":0.092,"x":2150,"y":1120},{"c":"g3","z":0.092,"x":2300,"y":1090},{"c":"g3","z":0.092,"x":2400,"y":1070},
{"c":"h1","z":0.136,"x":3569,"y":618},{"c":"h1","z":0.136,"x":3447,"y":638},{"c":"h1","z":0.136,"x":3340,"y":672},{"c":"h1","z":0.136,"x":3227,"y":696},
{"c":"h2","z":0.136,"x":3046,"y":743},{"c":"h2","z":0.136,"x":3138,"y":722},{"c":"h2","z":0.136,"x":3209,"y":701},
{"c":"h3","z":0.136,"x":2802,"y":794},{"c":"h3","z":0.136,"x":2900,"y":778},{"c":"h3","z":0.136,"x":2987,"y":763},
{"c":"h4","z":0.136,"x":2617,"y":879},{"c":"h4","z":0.136,"x":2738,"y":814},
{"c":"h5","z":0.136,"x":2515,"y":839},{"c":"h5","z":0.136,"x":2585,"y":814},
{"c":"h6","z":0.136,"x":2508,"y":888},{"c":"h6","z":0.136,"x":2515,"y":857},{"c":"h6","z":0.136,"x":2559,"y":830},
{"c":"h7","z":0.136,"x":2406,"y":857},{"c":"h7","z":0.136,"x":2460,"y":843},
{"c":"h8","z":0.138,"x":2410,"y":870},{"c":"h8","z":0.138,"x":2460,"y":852},
{"c":"h9","z":0.138,"x":2687,"y":808},{"c":"h9","z":0.138,"x":2720,"y":803},
{"c":"h10","z":0.14,"x":2700,"y":790},{"c":"h10","z":0.14,"x":2716,"y":786},
{"c":"i0","z":0.134,"x":3562,"y":627},{"c":"i0","z":0.134,"x":3450,"y":648},{"c":"i0","z":0.134,"x":3340,"y":680},{"c":"i0","z":0.134,"x":3200,"y":722},{"c":"i0","z":0.134,"x":3050,"y":765},{"c":"i0","z":0.134,"x":3030,"y":778},
{"c":"i1","z":0.132,"x":3555,"y":638},{"c":"i1","z":0.132,"x":3450,"y":660},{"c":"i1","z":0.132,"x":3340,"y":692},{"c":"i1","z":0.132,"x":3200,"y":728},{"c":"i1","z":0.132,"x":3100,"y":752},{"c":"i1","z":0.132,"x":3040,"y":772},{"c":"i1","z":0.132,"x":3020,"y":790},{"c":"i1","z":0.132,"x":2900,"y":800},{"c":"i1","z":0.132,"x":2800,"y":828},{"c":"i1","z":0.132,"x":2700,"y":852},{"c":"i1","z":0.132,"x":2600,"y":880},{"c":"i1","z":0.132,"x":2500,"y":900},{"c":"i1","z":0.132,"x":2400,"y":915},
{"c":"j1","z":0.13,"x":2345,"y":940},{"c":"j1","z":0.13,"x":2400,"y":930},{"c":"j1","z":0.13,"x":2500,"y":912},{"c":"j1","z":0.13,"x":2600,"y":892},{"c":"j1","z":0.13,"x":2700,"y":862},{"c":"j1","z":0.13,"x":2800,"y":840},{"c":"j1","z":0.13,"x":2900,"y":806},{"c":"j1","z":0.13,"x":3000,"y":783},{"c":"j1","z":0.13,"x":3100,"y":755},{"c":"j1","z":0.13,"x":3200,"y":731},{"c":"j1","z":0.13,"x":3300,"y":703},{"c":"j1","z":0.13,"x":3400,"y":677},{"c":"j1","z":0.13,"x":3543,"y":652},
{"c":"j2","z":0.128,"x":2345,"y":950},{"c":"j2","z":0.128,"x":2400,"y":939},{"c":"j2","z":0.128,"x":2500,"y":921},{"c":"j2","z":0.128,"x":2600,"y":899},{"c":"j2","z":0.128,"x":2700,"y":872},{"c":"j2","z":0.128,"x":2800,"y":847},{"c":"j2","z":0.128,"x":2900,"y":817},{"c":"j2","z":0.128,"x":3000,"y":792},{"c":"j2","z":0.128,"x":3100,"y":765},{"c":"j2","z":0.128,"x":3200,"y":740},{"c":"j2","z":0.128,"x":3300,"y":711},{"c":"j2","z":0.128,"x":3400,"y":687},{"c":"j2","z":0.128,"x":3530,"y":669},
{"c":"j3","z":0.126,"x":2345,"y":960},{"c":"j3","z":0.126,"x":2400,"y":948},{"c":"j3","z":0.126,"x":2500,"y":929},{"c":"j3","z":0.126,"x":2600,"y":907},{"c":"j3","z":0.126,"x":2700,"y":880},{"c":"j3","z":0.126,"x":2800,"y":856},{"c":"j3","z":0.126,"x":2900,"y":827},{"c":"j3","z":0.126,"x":3000,"y":801},{"c":"j3","z":0.126,"x":3100,"y":774},{"c":"j3","z":0.126,"x":3200,"y":749},{"c":"j3","z":0.126,"x":3300,"y":720},{"c":"j3","z":0.126,"x":3400,"y":697},{"c":"j3","z":0.126,"x":3515,"y":685},
{"c":"j4","z":0.124,"x":2345,"y":970},{"c":"j4","z":0.124,"x":2400,"y":957},{"c":"j4","z":0.124,"x":2500,"y":938},{"c":"j4","z":0.124,"x":2600,"y":916},{"c":"j4","z":0.124,"x":2700,"y":889},{"c":"j4","z":0.124,"x":2800,"y":865},{"c":"j4","z":0.124,"x":2900,"y":836},{"c":"j4","z":0.124,"x":3000,"y":811},{"c":"j4","z":0.124,"x":3100,"y":783},{"c":"j4","z":0.124,"x":3200,"y":757},{"c":"j4","z":0.124,"x":3300,"y":728},{"c":"j4","z":0.124,"x":3400,"y":706},{"c":"j4","z":0.124,"x":3501,"y":702},
{"c":"j5","z":0.122,"x":2345,"y":980},{"c":"j5","z":0.122,"x":2400,"y":966},{"c":"j5","z":0.122,"x":2500,"y":947},{"c":"j5","z":0.122,"x":2600,"y":925},{"c":"j5","z":0.122,"x":2700,"y":898},{"c":"j5","z":0.122,"x":2800,"y":874},{"c":"j5","z":0.122,"x":2900,"y":846},{"c":"j5","z":0.122,"x":3000,"y":820},{"c":"j5","z":0.122,"x":3100,"y":792},{"c":"j5","z":0.122,"x":3200,"y":766},{"c":"j5","z":0.122,"x":3300,"y":736},{"c":"j5","z":0.122,"x":3400,"y":716},{"c":"j5","z":0.122,"x":3495,"y":707},
{"c":"j6","z":0.12,"x":2345,"y":990},{"c":"j6","z":0.12,"x":2400,"y":975},{"c":"j6","z":0.12,"x":2500,"y":955},{"c":"j6","z":0.12,"x":2600,"y":933},{"c":"j6","z":0.12,"x":2700,"y":907},{"c":"j6","z":0.12,"x":2800,"y":883},{"c":"j6","z":0.12,"x":2900,"y":855},{"c":"j6","z":0.12,"x":3000,"y":830},{"c":"j6","z":0.12,"x":3100,"y":802},{"c":"j6","z":0.12,"x":3200,"y":775},{"c":"j6","z":0.12,"x":3300,"y":745},{"c":"j6","z":0.12,"x":3400,"y":730},{"c":"j6","z":0.12,"x":3486,"y":715},
{"c":"j7","z":0.118,"x":2345,"y":1000},{"c":"j7","z":0.118,"x":2400,"y":984},{"c":"j7","z":0.118,"x":2500,"y":964},{"c":"j7","z":0.118,"x":2600,"y":942},{"c":"j7","z":0.118,"x":2700,"y":915},{"c":"j7","z":0.118,"x":2800,"y":892},{"c":"j7","z":0.118,"x":2900,"y":865},{"c":"j7","z":0.118,"x":3000,"y":839},{"c":"j7","z":0.118,"x":3100,"y":811},{"c":"j7","z":0.118,"x":3200,"y":784},{"c":"j7","z":0.118,"x":3300,"y":753},{"c":"j7","z":0.118,"x":3400,"y":738},{"c":"j7","z":0.118,"x":3480,"y":721},
{"c":"j8","z":0.116,"x":2400,"y":993},{"c":"j8","z":0.116,"x":2500,"y":973},{"c":"j8","z":0.116,"x":2600,"y":951},{"c":"j8","z":0.116,"x":2700,"y":924},{"c":"j8","z":0.116,"x":2800,"y":901},{"c":"j8","z":0.116,"x":2900,"y":874},{"c":"j8","z":0.116,"x":3000,"y":849},{"c":"j8","z":0.116,"x":3100,"y":820},{"c":"j8","z":0.116,"x":3200,"y":793},{"c":"j8","z":0.116,"x":3300,"y":761},{"c":"j8","z":0.116,"x":3400,"y":748},{"c":"j8","z":0.116,"x":3465,"y":734},
{"c":"j9","z":0.114,"x":2400,"y":1003},{"c":"j9","z":0.114,"x":2500,"y":981},{"c":"j9","z":0.114,"x":2600,"y":959},{"c":"j9","z":0.114,"x":2700,"y":933},{"c":"j9","z":0.114,"x":2800,"y":910},{"c":"j9","z":0.114,"x":2900,"y":884},{"c":"j9","z":0.114,"x":3000,"y":858},{"c":"j9","z":0.114,"x":3100,"y":829},{"c":"j9","z":0.114,"x":3200,"y":802},{"c":"j9","z":0.114,"x":3300,"y":769},{"c":"j9","z":0.114,"x":3446,"y":749},
{"c":"k1","z":0.112,"x":2400,"y":1012},{"c":"k1","z":0.112,"x":2500,"y":990},{"c":"k1","z":0.112,"x":2600,"y":968},{"c":"k1","z":0.112,"x":2700,"y":942},{"c":"k1","z":0.112,"x":2800,"y":919},{"c":"k1","z":0.112,"x":2900,"y":893},{"c":"k1","z":0.112,"x":3000,"y":868},{"c":"k1","z":0.112,"x":3100,"y":838},{"c":"k1","z":0.112,"x":3200,"y":811},{"c":"k1","z":0.112,"x":3300,"y":778},{"c":"k1","z":0.112,"x":3425,"y":765},
{"c":"k2","z":0.11,"x":2400,"y":1021},{"c":"k2","z":0.11,"x":2500,"y":999},{"c":"k2","z":0.11,"x":2600,"y":977},{"c":"k2","z":0.11,"x":2700,"y":950},{"c":"k2","z":0.11,"x":2800,"y":928},{"c":"k2","z":0.11,"x":2900,"y":903},{"c":"k2","z":0.11,"x":3000,"y":877},{"c":"k2","z":0.11,"x":3100,"y":847},{"c":"k2","z":0.11,"x":3200,"y":820},{"c":"k2","z":0.11,"x":3300,"y":786},{"c":"k2","z":0.11,"x":3402,"y":780},
{"c":"k3","z":0.108,"x":2400,"y":1030},{"c":"k3","z":0.108,"x":2500,"y":1007},{"c":"k3","z":0.108,"x":2600,"y":985},{"c":"k3","z":0.108,"x":2700,"y":959},{"c":"k3","z":0.108,"x":2800,"y":937},{"c":"k3","z":0.108,"x":2900,"y":912},{"c":"k3","z":0.108,"x":3000,"y":887},{"c":"k3","z":0.108,"x":3100,"y":857},{"c":"k3","z":0.108,"x":3200,"y":829},{"c":"k3","z":0.108,"x":3300,"y":800},{"c":"k3","z":0.108,"x":3388,"y":789},
{"c":"k4","z":0.106,"x":2400,"y":1039},{"c":"k4","z":0.106,"x":2500,"y":1016},{"c":"k4","z":0.106,"x":2600,"y":994},{"c":"k4","z":0.106,"x":2700,"y":968},{"c":"k4","z":0.106,"x":2800,"y":946},{"c":"k4","z":0.106,"x":2900,"y":921},{"c":"k4","z":0.106,"x":3000,"y":896},{"c":"k4","z":0.106,"x":3100,"y":866},{"c":"k4","z":0.106,"x":3200,"y":838},{"c":"k4","z":0.106,"x":3330,"y":802},
{"c":"k5","z":0.104,"x":2400,"y":1048},{"c":"k5","z":0.104,"x":2500,"y":1025},{"c":"k5","z":0.104,"x":2600,"y":1003},{"c":"k5","z":0.104,"x":2700,"y":976},{"c":"k5","z":0.104,"x":2800,"y":955},{"c":"k5","z":0.104,"x":2900,"y":931},{"c":"k5","z":0.104,"x":3000,"y":906},{"c":"k5","z":0.104,"x":3100,"y":875},{"c":"k5","z":0.104,"x":3200,"y":847},{"c":"k5","z":0.104,"x":3310,"y":808},
{"c":"k6","z":0.102,"x":2400,"y":1057},{"c":"k6","z":0.102,"x":2500,"y":1033},{"c":"k6","z":0.102,"x":2600,"y":1011},{"c":"k6","z":0.102,"x":2700,"y":985},{"c":"k6","z":0.102,"x":2800,"y":964},{"c":"k6","z":0.102,"x":2900,"y":940},{"c":"k6","z":0.102,"x":3000,"y":915},{"c":"k6","z":0.102,"x":3100,"y":884},{"c":"k6","z":0.102,"x":3200,"y":856},{"c":"k6","z":0.102,"x":3300,"y":820},
{"c":"m1","z":0.15,"x":2333,"y":776},{"c":"m1","z":0.15,"x":2346,"y":775},{"c":"m2","z":0.148,"x":2333,"y":790},{"c":"m2","z":0.148,"x":2347,"y":789},{"c":"m3","z":0.146,"x":2330,"y":812},{"c":"m3","z":0.146,"x":2352,"y":810},{"c":"m4","z":0.144,"x":2328,"y":843},{"c":"m4","z":0.144,"x":2357,"y":841},{"c":"m5","z":0.142,"x":2326,"y":866},{"c":"m5","z":0.142,"x":2360,"y":864},{"c":"m6","z":0.14,"x":2325,"y":880},{"c":"m6","z":0.14,"x":2363,"y":879},{"c":"m7","z":0.138,"x":2323,"y":893},{"c":"m7","z":0.138,"x":2365,"y":892},
{"c":"n1","z":0.115,"x":2300,"y":1250},{"c":"n1","z":0.115,"x":2320,"y":1170},{"c":"n1","z":0.115,"x":2345,"y":1090},{"c":"n1","z":0.115,"x":2365,"y":1060},{"c":"n1","z":0.115,"x":2380,"y":1020},{"c":"n1","z":0.115,"x":2400,"y":960},
{"c":"n2","z":0.125,"x":2322,"y":1100},{"c":"n2","z":0.125,"x":2340,"y":1040},{"c":"n2","z":0.125,"x":2370,"y":1000},{"c":"n2","z":0.125,"x":2385,"y":950},{"c":"n2","z":0.125,"x":2410,"y":905},
{"c":"n3","z":0.11,"x":2310,"y":1200},{"c":"n3","z":0.11,"x":2335,"y":1110},{"c":"n3","z":0.11,"x":2370,"y":1065},
{"c":"o1","z":0.097,"x":2556,"y":1033},{"c":"o1","z":0.097,"x":2716,"y":1064},{"c":"o2","z":0.096,"x":2569,"y":1053},{"c":"o2","z":0.096,"x":2684,"y":1079},{"c":"o3","z":0.095,"x":2579,"y":1066},{"c":"o3","z":0.095,"x":2649,"y":1089},{"c":"o4","z":0.094,"x":2588,"y":1091},{"c":"o4","z":0.094,"x":2614,"y":1102},{"c":"o5","z":0.098,"x":2610,"y":1013},{"c":"o5","z":0.098,"x":2744,"y":1053},{"c":"o6","z":0.099,"x":2640,"y":1000},{"c":"o6","z":0.099,"x":2770,"y":1040},{"c":"o7","z":0.1,"x":2674,"y":1002},{"c":"o7","z":0.1,"x":2795,"y":1026},{"c":"o8","z":0.1,"x":2700,"y":995},{"c":"o8","z":0.1,"x":2820,"y":1010},{"c":"o9","z":0.1,"x":2738,"y":990},{"c":"o9","z":0.1,"x":2843,"y":995},
{"c":"q1","z":0.08,"x":2368,"y":946},{"c":"q1","z":0.08,"x":2464,"y":917},{"c":"q2","z":0.08,"x":2419,"y":968},{"c":"q2","z":0.08,"x":2585,"y":921},{"c":"q3","z":0.082,"x":2674,"y":959},{"c":"q3","z":0.082,"x":2859,"y":919},{"c":"q4","z":0.085,"x":2815,"y":955},{"c":"q4","z":0.085,"x":2860,"y":945},
{"c":"r1","z":0.075,"x":2075,"y":1463},{"c":"r1","z":0.075,"x":2220,"y":1468},{"c":"r2","z":0.073,"x":2034,"y":1471},{"c":"r2","z":0.073,"x":2117,"y":1474},{"c":"r3","z":0.072,"x":1906,"y":1532},{"c":"r3","z":0.072,"x":2117,"y":1542},{"c":"r4","z":0.072,"x":1874,"y":1545},{"c":"r4","z":0.072,"x":2078,"y":1548},{"c":"r5","z":0.07,"x":1900,"y":1615},{"c":"r5","z":0.07,"x":2030,"y":1605},
{"c":"s1","z":0.07,"x":1986,"y":1496},{"c":"s1","z":0.07,"x":2002,"y":1520},{"c":"s1","z":0.07,"x":1995,"y":1612},{"c":"s1","z":0.07,"x":2018,"y":1642},
{"c":"s2","z":0.072,"x":2034,"y":1551},{"c":"s2","z":0.072,"x":2027,"y":1612},{"c":"s2","z":0.072,"x":2045,"y":1630},
{"c":"s3","z":0.066,"x":1906,"y":1615},{"c":"s3","z":0.066,"x":1964,"y":1670},
{"c":"s4","z":0.075,"x":2075,"y":1480},{"c":"s4","z":0.075,"x":2085,"y":1525},
{"c":"s5","z":0.078,"x":2120,"y":1470},{"c":"s5","z":0.078,"x":2170,"y":1480},{"c":"s5","z":0.078,"x":2125,"y":1510}
],
"labels":[
{"t":"0.06","x":968,"y":1233},{"t":"0.06","x":1065,"y":1285},{"t":"0.06","x":1137,"y":1331},{"t":"0.06","x":1204,"y":1382},{"t":"0.06","x":1268,"y":1435},{"t":"0.06","x":1359,"y":1488},{"t":"0.06","x":1383,"y":1532},{"t":"0.06","x":1546,"y":1581},{"t":"0.06","x":1516,"y":1603},{"t":"0.06","x":1616,"y":1627},{"t":"0.06","x":1593,"y":1638},{"t":"0.06","x":1736,"y":1692},
{"t":"0.07","x":1148,"y":1114},{"t":"0.07","x":1326,"y":1166},{"t":"0.07","x":1506,"y":1220},{"t":"0.07","x":1670,"y":1274},{"t":"0.07","x":1821,"y":1329},{"t":"0.07","x":1954,"y":1384},{"t":"0.07","x":2015,"y":1434},{"t":"0.07","x":2002,"y":1479},{"t":"0.07","x":2018,"y":1525},{"t":"0.07","x":1950,"y":1545},{"t":"0.07","x":1994,"y":1595},{"t":"0.07","x":1981,"y":1635},
{"t":"0.08","x":1716,"y":1140},{"t":"0.08","x":1839,"y":1193},{"t":"0.08","x":1962,"y":1248},{"t":"0.08","x":2088,"y":1303},{"t":"0.08","x":2174,"y":1358},{"t":"0.08","x":2212,"y":1407},{"t":"0.08","x":2231,"y":1455},{"t":"0.08","x":2150,"y":1487},{"t":"0.08","x":2117,"y":1526},{"t":"0.08","x":1778,"y":1105},{"t":"0.08","x":1898,"y":1080},{"t":"0.08","x":2029,"y":1055},{"t":"0.08","x":2142,"y":1029},{"t":"0.08","x":2263,"y":1007},{"t":"0.08","x":2496,"y":950},{"t":"0.08","x":2378,"y":975},{"t":"0.08","x":2840,"y":950},{"t":"0.08","x":2973,"y":922},
{"t":"0.09","x":2152,"y":1109},{"t":"0.09","x":2062,"y":1141},{"t":"0.09","x":2123,"y":1193},{"t":"0.09","x":2206,"y":1245},{"t":"0.09","x":2260,"y":1298},{"t":"0.09","x":2270,"y":1346},{"t":"0.09","x":2253,"y":1389},{"t":"0.09","x":2272,"y":1084},
{"t":"0.1","x":2247,"y":1138},{"t":"0.1","x":2288,"y":1187},{"t":"0.1","x":2272,"y":1096},{"t":"0.1","x":2387,"y":1071},{"t":"0.1","x":2507,"y":1044},{"t":"0.1","x":2621,"y":1017},{"t":"0.1","x":2736,"y":1017},{"t":"0.1","x":2732,"y":975},{"t":"0.1","x":2757,"y":982},{"t":"0.1","x":2977,"y":926},{"t":"0.1","x":3084,"y":895},{"t":"0.1","x":3199,"y":868},{"t":"0.1","x":2505,"y":1031},{"t":"0.1","x":2617,"y":1002},{"t":"0.1","x":2385,"y":1060},
{"t":"0.11","x":2332,"y":1129},{"t":"0.11","x":2320,"y":1087},{"t":"0.11","x":2387,"y":1046},{"t":"0.11","x":2497,"y":1020},{"t":"0.11","x":2610,"y":993},{"t":"0.11","x":2728,"y":964},{"t":"0.11","x":2875,"y":955},{"t":"0.11","x":2909,"y":919},{"t":"0.11","x":2930,"y":921},{"t":"0.11","x":3011,"y":887},{"t":"0.11","x":3120,"y":860},{"t":"0.11","x":3225,"y":831},{"t":"0.11","x":3339,"y":805},
{"t":"0.12","x":2333,"y":1065},{"t":"0.12","x":2363,"y":1024},{"t":"0.12","x":2425,"y":988},{"t":"0.12","x":2537,"y":962},{"t":"0.12","x":2652,"y":933},{"t":"0.12","x":2762,"y":906},{"t":"0.12","x":2872,"y":877},{"t":"0.12","x":2964,"y":855},{"t":"0.12","x":3067,"y":825},{"t":"0.12","x":3177,"y":797},{"t":"0.12","x":3282,"y":768},{"t":"0.12","x":3391,"y":739},
{"t":"0.13","x":2342,"y":970},{"t":"0.13","x":2388,"y":930},{"t":"0.13","x":2510,"y":913},{"t":"0.13","x":2608,"y":884},{"t":"0.13","x":2712,"y":857},{"t":"0.13","x":2821,"y":828},{"t":"0.13","x":2927,"y":798},{"t":"0.13","x":3046,"y":768},{"t":"0.13","x":3152,"y":738},{"t":"0.13","x":3260,"y":710},{"t":"0.13","x":3365,"y":682},{"t":"0.13","x":3474,"y":653}
],
"ticks":[
{"t":"8.232","x":245,"y":1533},{"t":"7.696","x":387,"y":1564},{"t":"7.16","x":541,"y":1595},{"t":"6.624","x":671,"y":1625},{"t":"6.088","x":813,"y":1655},{"t":"5.552","x":955,"y":1686},{"t":"5.016","x":1098,"y":1716},{"t":"4.48","x":1251,"y":1746},{"t":"3.944","x":1382,"y":1775},{"t":"3.408","x":1525,"y":1806},{"t":"2.872","x":1667,"y":1837},{"t":"2.336","x":1808,"y":1867},
{"t":"225","x":2230,"y":1860},{"t":"305","x":2354,"y":1825},{"t":"385","x":2478,"y":1790},{"t":"465","x":2602,"y":1755},{"t":"545","x":2726,"y":1720},{"t":"625","x":2850,"y":1685},{"t":"705","x":2974,"y":1650},{"t":"785","x":3098,"y":1615},{"t":"865","x":3222,"y":1580},{"t":"945","x":3346,"y":1545},{"t":"1025","x":3470,"y":1510},{"t":"1105","x":3594,"y":1475}
],
"zticks":[
{"t":"0.15","x":192,"y":479},{"t":"0.14","x":192,"y":578},{"t":"0.13","x":192,"y":678},{"t":"0.12","x":192,"y":777},{"t":"0.11","x":192,"y":877},{"t":"0.1","x":192,"y":976},{"t":"0.09","x":192,"y":1076},{"t":"0.08","x":192,"y":1176},{"t":"0.07","x":192,"y":1275},{"t":"0.06","x":192,"y":1375}
],
"titles":[{"t":"nominal k","x":1030,"y":1884},{"t":"[V/V]","x":1280,"y":1884},{"t":"R","x":2608,"y":1870},{"t":"[kΩ]","x":2690,"y":1870}],
"subs":[{"t":"u","x":1228,"y":1910},{"t":"in","x":2640,"y":1890}],
"vtitles":[{"t":"rel. t","x":50,"y":1117},{"t":"change","x":50,"y":964}],
"vsubs":[{"t":"pd","x":78,"y":1024}],
"note":[{"t":"Z","x":2356,"y":607},{"t":"k","x":2356,"y":646},{"t":"= 1.8","x":2397,"y":646},{"t":"R","x":2356,"y":698},{"t":"= 345 kΩ","x":2409,"y":698}],
"notesub":[{"t":"u","x":2373,"y":662},{"t":"in","x":2381,"y":714}]
},
"encoding":{"x":{"field":"x","type":"quantitative","scale":{"domain":[0,3833],"nice":false,"zero":false},"axis":null},"y":{"field":"y","type":"quantitative","scale":{"domain":[1960,0],"nice":false,"zero":false},"axis":null}},
"layer":[
{"data":{"name":"grid"},"mark":{"type":"rule","stroke":"#e6e6e6","strokeWidth":1.7},"encoding":{"x2":{"field":"x2"},"y2":{"field":"y2"}}},
{"data":{"name":"base"},"mark":{"type":"area","fill":{"gradient":"linear","x1":0,"y1":0,"x2":1,"y2":0,"stops":[{"offset":0,"color":"#e7e6f8"},{"offset":0.7,"color":"#e8ecfb"},{"offset":1,"color":"#e7f1fb"}]}},"encoding":{"y2":{"field":"y2"}}},
{"data":{"name":"ridge"},"mark":{"type":"area","opacity":0.05},"encoding":{"y2":{"field":"y2"},"color":{"field":"z","type":"quantitative","legend":null,"scale":{"domain":[0.0517,0.06,0.07,0.08,0.09,0.1,0.11,0.12,0.13,0.14,0.15,0.15302],"range":["#3e26a8","#4435dc","#4357f8","#2f80f8","#1ea6e0","#03b9cf","#35c893","#86cb55","#c9bf28","#feba38","#f6e51f","#f9fb15"]}}}},
{"data":{"name":"patches"},"mark":{"type":"area","opacity":0.12},"encoding":{"y2":{"field":"y2"},"detail":{"field":"p"},"color":{"field":"z","type":"quantitative","legend":null}}},
{"data":{"name":"contours"},"transform":[{"window":[{"op":"row_number","as":"i"}]}],"mark":{"type":"line","strokeWidth":1.6},"encoding":{"detail":{"field":"c"},"order":{"field":"i","type":"quantitative"},"color":{"field":"z","type":"quantitative","legend":null}}},
{"data":{"name":"axes"},"mark":{"type":"rule","stroke":"#262626","strokeWidth":1.6},"encoding":{"x2":{"field":"x2"},"y2":{"field":"y2"}}},
{"data":{"name":"colorbar"},"mark":{"type":"rect","x":3664,"x2":3714},"encoding":{"x":{"value":3664},"x2":{"value":3714},"y2":{"field":"y2"},"color":{"field":"z","type":"quantitative","legend":null}}},
{"data":{"values":[{"y":22,"y2":1841}]},"mark":{"type":"rect","fill":null,"stroke":"#4a4a4a","strokeWidth":2},"encoding":{"x":{"value":3664},"x2":{"value":3714},"y2":{"field":"y2"}}},
{"data":{"name":"cbticks"},"mark":{"type":"rule","stroke":"#262626","strokeWidth":1.4},"encoding":{"x2":{"field":"x2"},"y2":{"field":"y2"}}},
{"data":{"name":"cblabels"},"mark":{"type":"text","font":"Liberation Sans","fontSize":38,"fill":"#262626","align":"left"},"encoding":{"text":{"field":"t"}}},
{"data":{"name":"labels"},"mark":{"type":"text","font":"Liberation Sans","fontWeight":"bold","fontSize":30,"fill":"#0000ff"},"encoding":{"text":{"field":"t"}}},
{"data":{"name":"ticks"},"mark":{"type":"text","font":"Liberation Sans","fontSize":42,"fill":"#262626"},"encoding":{"text":{"field":"t"}}},
{"data":{"name":"zticks"},"mark":{"type":"text","font":"Liberation Sans","fontSize":42,"fill":"#262626","align":"right"},"encoding":{"text":{"field":"t"}}},
{"data":{"name":"titles"},"mark":{"type":"text","font":"Liberation Sans","fontSize":43,"fill":"#262626","align":"left"},"encoding":{"text":{"field":"t"}}},
{"data":{"name":"subs"},"mark":{"type":"text","font":"Liberation Sans","fontSize":31,"fill":"#262626","align":"left"},"encoding":{"text":{"field":"t"}}},
{"data":{"name":"vtitles"},"mark":{"type":"text","font":"Liberation Sans","fontSize":43,"fill":"#262626","align":"left","angle":270},"encoding":{"text":{"field":"t"}}},
{"data":{"name":"vsubs"},"mark":{"type":"text","font":"Liberation Sans","fontSize":31,"fill":"#262626","align":"left","angle":270},"encoding":{"text":{"field":"t"}}},
{"data":{"values":[{"x":2335,"y":414,"y2":730}]},"mark":{"type":"rule","stroke":"#111111","strokeWidth":1.6},"encoding":{"y2":{"field":"y2"}}},
{"data":{"values":[{"x":2341,"x2":2552,"y":570,"y2":745}]},"mark":{"type":"rect","fill":"#f9f9fe","stroke":"#b8b8b8","strokeWidth":2,"cornerRadius":7},"encoding":{"x2":{"field":"x2"},"y2":{"field":"y2"}}},
{"data":{"values":[{"x":2336,"y":731}]},"mark":{"type":"point","shape":"M-1,-1.2 L0,-0.55 L1,-1.2 L0,1.2 Z","size":576,"filled":true,"fill":"#000000","opacity":1}},
{"data":{"values":[{"x":2337,"y":748}]},"mark":{"type":"point","shape":"circle","size":130,"filled":true,"fill":"#222222","opacity":1}},
{"data":{"name":"note"},"mark":{"type":"text","font":"Liberation Sans","fontSize":29,"fill":"#404040","align":"left"},"encoding":{"text":{"field":"t"}}},
{"data":{"name":"notesub"},"mark":{"type":"text","font":"Liberation Sans","fontSize":22,"fill":"#404040","align":"left"},"encoding":{"text":{"field":"t"}}},
{"data":{"values":[{"t":"0.15302","x":2385,"y":607}]},"mark":{"type":"text","font":"Liberation Sans","fontWeight":"bold","fontSize":29,"fill":"#0a9cff","align":"left"},"encoding":{"text":{"field":"t"}}}
]}
